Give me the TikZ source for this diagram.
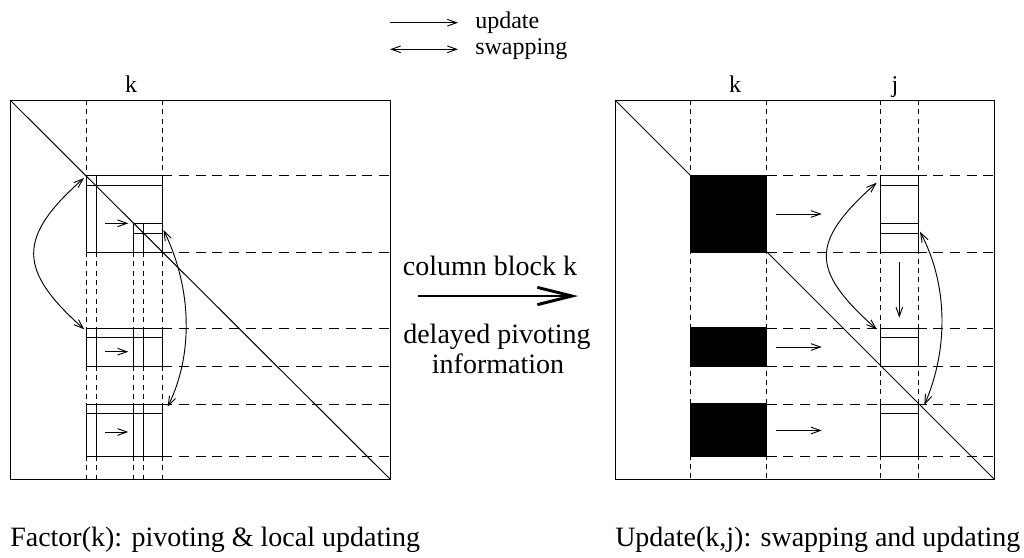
\documentclass[tikz,border=0pt]{standalone}
\usepackage{fontspec}
\setmainfont{Liberation Serif}
\usetikzlibrary{arrows.meta}

\begin{document}
\begin{tikzpicture}[x=0.75pt,y=-0.75pt,
  solidline/.style={line width=0.75pt},
  vdash/.style={line width=0.7pt, dash pattern=on 3.8pt off 3.2pt},
  hdash/.style={line width=0.7pt, dash pattern=on 7.5pt off 5pt},
  update/.style={line width=0.7pt, -{Straight Barb[length=7pt,width=5pt]}},
  swap/.style={line width=0.7pt, {Straight Barb[length=7pt,width=5pt]}-{Straight Barb[length=7pt,width=5pt]}},
  bigarrow/.style={line width=2.2pt, -{Straight Barb[length=26pt,width=13pt,line width=2.2pt]}},
  lbl/.style={inner sep=0pt, font=\fontsize{18pt}{20pt}\selectfont},
  midtext/.style={inner sep=0pt, font=\fontsize{21pt}{24pt}\selectfont},
  caption/.style={inner sep=0pt, anchor=base west, font=\fontsize{21pt}{24pt}\selectfont},
  block/.style={fill=black, draw=black, line width=0.9pt}]
\useasboundingbox (0,0) rectangle (1024,557);

% ---------- legend ----------
\coordinate (lu1) at (390,22.7);  \coordinate (lu2) at (458,22.7);
\coordinate (ls1) at (390,49.3);  \coordinate (ls2) at (458,49.3);
\draw[update] (lu1) -- (lu2);
\draw[swap] (ls1) -- (ls2);
\node[lbl, anchor=base west] (tupd) at (475,28) {update};
\node[lbl, anchor=base west] (tswp) at (475,54.5) {swapping};

% ---------- left matrix: Factor(k) ----------
\node[lbl, anchor=base] (kl) at (131,92) {k};
% dashed grid
\foreach \x in {86.7,162.3} \draw[vdash] (\x,100) -- (\x,175.7);
\foreach \x in {86.7,96,133.7,143.3,162.3} {
  \draw[vdash] (\x,252) -- (\x,328);
  \draw[vdash] (\x,366) -- (\x,404);
  \draw[vdash] (\x,456) -- (\x,479);
}
\foreach \y in {175.7,252,328,366,404,456} \draw[hdash] (162.3,\y) -- (390,\y);
% frame and diagonal
\draw[solidline] (10,100) rectangle (390,479);
\draw[solidline] (10,100) -- (390,479);
% block 1 with its pivot sub-block
\draw[solidline] (86.7,175.7) rectangle (162.3,252);
\draw[solidline] (86.7,185.3) -- (162.3,185.3);
\draw[solidline] (96,175.7) -- (96,252);
\draw[solidline] (133.7,223.3) rectangle (162.3,252);
\draw[solidline] (133.7,233) -- (162.3,233);
\draw[solidline] (143.3,223.3) -- (143.3,252);
% blocks 2 and 3
\draw[solidline] (86.7,328) rectangle (162.3,366);
\draw[solidline] (86.7,337.5) -- (162.3,337.5);
\draw[solidline] (86.7,404) rectangle (162.3,456);
\draw[solidline] (86.7,413.7) -- (162.3,413.7);
\foreach \x in {96,133.7,143.3} {
  \draw[solidline] (\x,328) -- (\x,366);
  \draw[solidline] (\x,404) -- (\x,456);
}
% local updates
\coordinate (la1) at (105.3,223.3); \coordinate (lb1) at (128.3,223.3);
\coordinate (la2) at (105.3,351.7); \coordinate (lb2) at (128.3,351.7);
\coordinate (la3) at (105.3,432);   \coordinate (lb3) at (128.3,432);
\draw[update] (la1) -- (lb1);
\draw[update] (la2) -- (lb2);
\draw[update] (la3) -- (lb3);
% row swaps
\coordinate (sa1) at (84,178);    \coordinate (sa2) at (84.3,329.3);
\coordinate (sb1) at (163.5,230); \coordinate (sb2) at (167.7,406.7);
\draw[swap] (sa1) .. controls (17.3,237) and (17.3,270) .. (sa2);
\draw[swap] (sb1) .. controls (192.8,290) and (192.8,356) .. (sb2);

% ---------- transfer between the two steps ----------
\node[midtext, anchor=base] (tcol) at (490,275) {column block k};
\coordinate (ma) at (418,296); \coordinate (mb) at (578,296);
\draw[bigarrow] (ma) -- (mb);
\node[midtext, anchor=base] (tdel) at (497,343) {delayed pivoting};
\node[midtext, anchor=base] (tinf) at (498,373) {information};

% ---------- right matrix: Update(k,j) ----------
\node[lbl, anchor=base] (kr) at (735,92) {k};
\node[lbl, anchor=base] (jr) at (895,92) {j};
\foreach \x in {690.7,766.7,880.7,918.7} \draw[vdash] (\x,100) -- (\x,479);
\foreach \y in {175.7,252,328,366,404,456} \draw[hdash] (766.7,\y) -- (994,\y);
\draw[solidline] (615,100) rectangle (994,479);
\draw[solidline] (615,100) -- (994,479);
% factored column block k
\filldraw[block] (690.7,175.7) rectangle (766.7,252);
\filldraw[block] (690.7,328) rectangle (766.7,366);
\filldraw[block] (690.7,404) rectangle (766.7,456);
% column block j
\draw[solidline] (880.7,175.7) rectangle (918.7,252);
\draw[solidline] (880.7,185.3) -- (918.7,185.3);
\draw[solidline] (880.7,223.3) -- (918.7,223.3);
\draw[solidline] (880.7,233) -- (918.7,233);
\draw[solidline] (880.7,328) rectangle (918.7,366);
\draw[solidline] (880.7,337.5) -- (918.7,337.5);
\draw[solidline] (880.7,404) rectangle (918.7,456);
\draw[solidline] (880.7,413.7) -- (918.7,413.7);
% updates
\coordinate (ra1) at (776,214);   \coordinate (rb1) at (821.7,214);
\coordinate (ra2) at (776,347);   \coordinate (rb2) at (821.7,347);
\coordinate (ra3) at (776,430.5); \coordinate (rb3) at (821.7,430.5);
\draw[update] (ra1) -- (rb1);
\draw[update] (ra2) -- (rb2);
\draw[update] (ra3) -- (rb3);
\coordinate (da) at (899.3,261.7); \coordinate (db) at (899.3,317.7);
\draw[update] (da) -- (db);
% swaps
\coordinate (sc1) at (876.7,182.7); \coordinate (sc2) at (876.7,329.3);
\coordinate (sd1) at (920,231.7);   \coordinate (sd2) at (924.3,405);
\draw[swap] (sc1) .. controls (810,242) and (810,270) .. (sc2);
\draw[swap] (sd1) .. controls (948.3,285) and (948.3,350) .. (sd2);

% ---------- captions ----------
\node[caption] (capl) at (10,546) {Factor(k): pivoting \& local updating};
\node[caption] (capr) at (615,546) {Update(k,j): swapping and updating};
\end{tikzpicture}
\end{document}
